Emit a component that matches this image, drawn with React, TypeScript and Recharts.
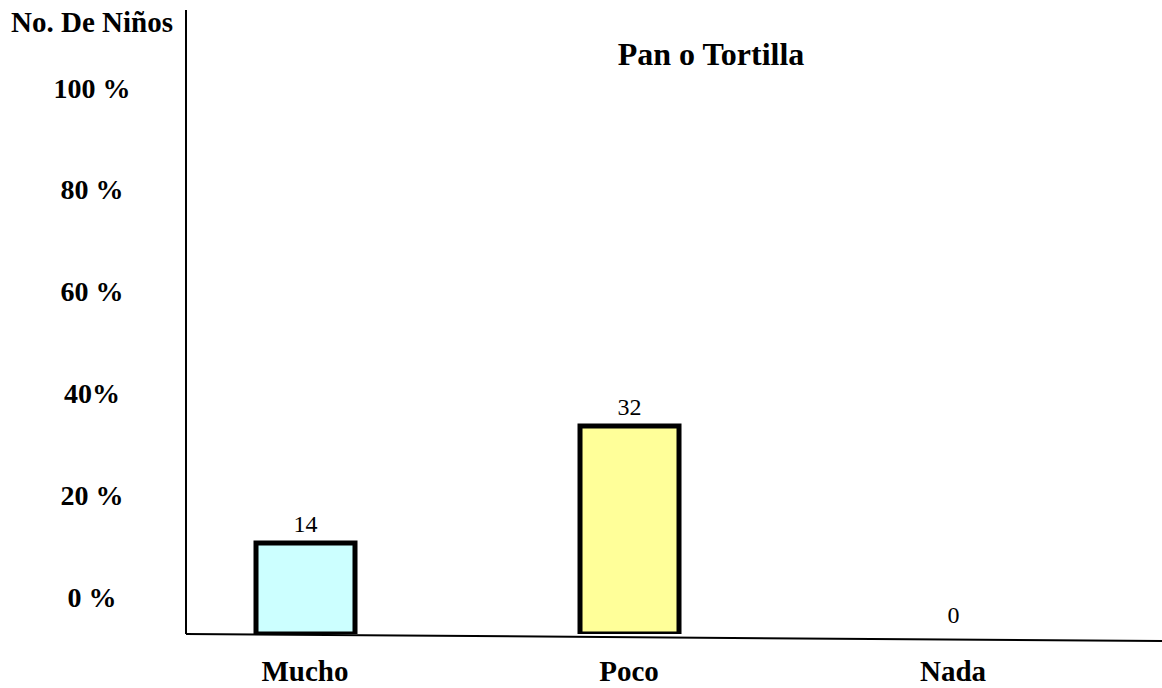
import React from "react";
import { BarChart, Bar, XAxis, YAxis, Cell, LabelList, ReferenceLine } from "recharts";

// categories and counts (No. de niños)
const categories = ["Mucho", "Poco", "Nada"];
const counts = [14, 32, 0];

// the left axis shows percentage labels that are not tied to the bars
const pctTickValues = [0, 20, 40, 60, 80, 100];
const pctTickLabels = ["0 %", "20 %", "40%", "60 %", "80 %", "100 %"];

const barColors = ["#CCFFFF", "#FFFF99", "#FFFFFF"];

const SERIF = "'Times New Roman', 'Liberation Serif', serif";

const rows = categories.map((name, i) => ({ name, idx: i, value: counts[i] }));

function PctTick(props: any) {
  const { y, payload } = props;
  const label = pctTickLabels[pctTickValues.indexOf(payload.value)];
  return (
    <text x={92} y={y} dy="0.34em" textAnchor="middle" fontFamily={SERIF} fontWeight="bold" fontSize={28} fill="#000">
      {label}
    </text>
  );
}

function CatTick(props: any) {
  const { x, y, payload } = props;
  return (
    <text x={x} y={y + 47} textAnchor="middle" fontFamily={SERIF} fontWeight="bold" fontSize={29} fill="#000">
      {categories[payload.value]}
    </text>
  );
}

export default function App() {
  const xMin = -0.3673;
  const xMax = 2.645;
  return (
    <div style={{ position: "absolute", left: 0, top: 0, width: 1162, height: 688, background: "#fff" }}>
      <BarChart width={1162} height={688} data={rows} margin={{ top: 10, right: 0, left: 0, bottom: 0 }}>
        <XAxis
          type="number"
          dataKey="idx"
          domain={[xMin, xMax]}
          ticks={[0, 1, 2]}
          allowDataOverflow
          axisLine={false}
          tickLine={false}
          tickSize={0}
          tickMargin={0}
          height={54}
          tick={<CatTick />}
        />
        <YAxis
          yAxisId="pct"
          type="number"
          domain={[-7.27, 115.32]}
          ticks={pctTickValues}
          allowDataOverflow
          width={186}
          axisLine={{ stroke: "#000", strokeWidth: 2 }}
          tickLine={false}
          tickSize={0}
          tick={<PctTick />}
        />
        <YAxis yAxisId="count" type="number" domain={[0, 96]} hide width={0} allowDataOverflow />
        <ReferenceLine
          yAxisId="count"
          segment={[
            { x: xMin, y: 0 },
            { x: xMax, y: -1.08 },
          ]}
          stroke="#000"
          strokeWidth={2}
          ifOverflow="visible"
        />
        <Bar
          dataKey="value"
          yAxisId="count"
          barSize={99}
          minPointSize={0.5}
          stroke="#000"
          strokeWidth={5}
          isAnimationActive={false}
        >
          {rows.map((r, i) => (
            <Cell key={r.name} fill={barColors[i]} stroke={r.value === 0 ? "none" : "#000"} />
          ))}
          <LabelList dataKey="value" position="top" offset={11} fill="#000" fontSize={24} fontFamily={SERIF} />
        </Bar>
      </BarChart>
      <div
        style={{
          position: "absolute",
          left: 711,
          top: 38,
          transform: "translateX(-50%)",
          fontFamily: SERIF,
          fontWeight: "bold",
          fontSize: 32,
          lineHeight: "32px",
          whiteSpace: "nowrap",
        }}
      >
        Pan o Tortilla
      </div>
      <div
        style={{
          position: "absolute",
          left: 92,
          top: 8,
          transform: "translateX(-50%)",
          fontFamily: SERIF,
          fontWeight: "bold",
          fontSize: 29,
          lineHeight: "29px",
          whiteSpace: "nowrap",
        }}
      >
        No. De Niños
      </div>
    </div>
  );
}
